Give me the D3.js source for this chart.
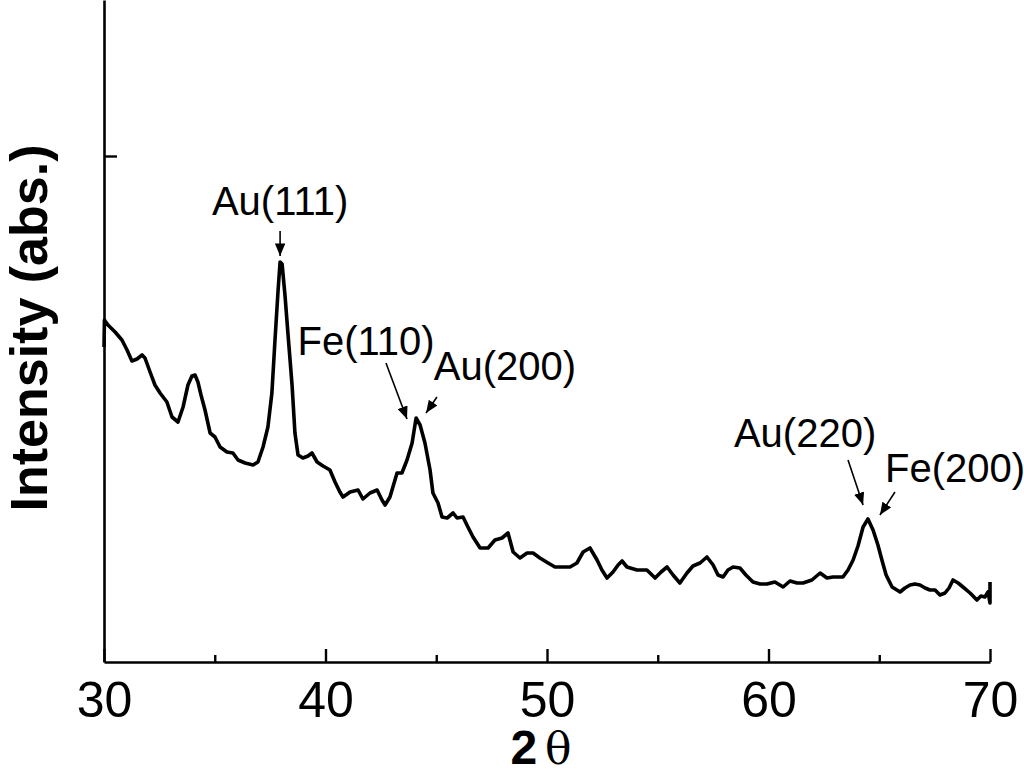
<!DOCTYPE html>
<html>
<head>
<meta charset="utf-8">
<script src="https://cdn.jsdelivr.net/npm/d3@7"></script>
<style>
  html, body { margin: 0; padding: 0; background: #fff; }
  svg { display: block; }
  text { font-family: "Liberation Sans", Arial, sans-serif; fill: #000; }
</style>
</head>
<body>
<svg id="chart" width="1024" height="776"></svg>
<script>
// ---- data ----
const twoTheta = [30.00,30.02,30.05,30.18,30.50,30.81,31.04,31.26,31.49,31.72,31.85,32.08,32.30,32.53,32.84,33.07,33.34,33.57,33.79,33.97,34.11,34.24,34.38,34.56,34.79,35.01,35.24,35.55,35.82,36.05,36.37,36.73,36.95,37.18,37.40,37.58,37.72,37.86,37.95,38.04,38.17,38.31,38.49,38.62,38.76,38.98,39.21,39.39,39.62,39.89,40.20,40.43,40.65,40.79,41.11,41.47,41.69,42.01,42.33,42.55,42.69,42.91,43.23,43.45,43.68,43.91,44.09,44.27,44.49,44.72,44.85,45.08,45.26,45.49,45.76,45.94,46.21,46.43,46.66,46.98,47.34,47.65,47.97,48.24,48.47,48.78,49.10,49.37,49.68,50.05,50.36,50.72,51.04,51.35,51.63,51.94,52.26,52.48,52.71,52.98,53.21,53.39,53.61,54.06,54.51,54.88,55.15,55.42,55.69,56.00,56.32,56.59,56.91,57.22,57.50,57.72,57.95,58.17,58.40,58.71,58.98,59.30,59.62,59.93,60.29,60.66,60.97,61.29,61.56,61.96,62.33,62.64,62.91,63.36,63.59,63.82,64.04,64.27,64.49,64.72,64.94,65.12,65.31,65.58,65.94,66.16,66.39,66.61,66.84,67.07,67.29,67.52,67.74,67.97,68.15,68.33,68.56,68.78,69.10,69.32,69.41,69.59,69.77,69.91,70.00,70.00];
const intensity = [315,342,341,337,330,322,312,301,303,307,304,290,277,269,260,245,240,255,277,286,287,280,267,252,229,225,215,210,209,202,199,197,200,215,235,269,322,372,400,398,367,327,277,229,207,204,206,209,200,196,192,180,170,165,170,172,163,169,172,162,157,165,189,189,202,219,244,237,219,192,169,159,145,144,149,144,145,135,125,114,114,122,124,129,110,104,109,109,104,99,95,95,95,99,110,114,102,92,84,90,97,101,95,92,92,84,90,95,87,79,89,96,99,105,97,87,85,92,95,94,87,80,78,78,80,75,81,79,79,82,89,84,85,85,92,102,116,135,143,132,117,102,87,75,70,74,77,78,77,74,72,72,67,69,74,82,79,75,69,64,62,66,65,70,59,80];

const xTicks = [30, 40, 50, 60, 70];
const xMinorTicks = [35, 45, 55, 65];
const yTicks = [506];

const peakLabels = ["Au(111)", "Fe(110)", "Au(200)", "Au(220)", "Fe(200)"];
// label anchor (2θ, intensity) and arrow from/to (2θ, intensity)
const labelTheta     = [37.95, 41.83, 48.10, 61.65, 68.42];
const labelIntensity = [447,   307,   282,   215,   180];
const arrowFromTheta = [37.95, 42.73, 45.03, 63.59, 65.71];
const arrowFromInt   = [431,   299,   265,   202,   170];
const arrowToTheta   = [37.95, 43.68, 44.54, 64.27, 65.03];
const arrowToInt     = [406,   243,   249,   157,   147];

// ---- drawing ----
const svg = d3.select("#chart");
const x = d3.scaleLinear().domain([30, 70]).range([104, 990]);
const y = d3.scaleLinear().domain([0, 662]).range([662, 0]);

const defs = svg.append("defs");
defs.append("marker")
  .attr("id", "arrowhead")
  .attr("viewBox", "0 0 12 10")
  .attr("refX", 12).attr("refY", 5)
  .attr("markerWidth", 8).attr("markerHeight", 6.5)
  .attr("markerUnits", "strokeWidth")
  .attr("orient", "auto")
  .append("path").attr("d", "M0,0 L12,5 L0,10 Z").attr("fill", "#000");

// X axis
const gx = svg.append("g").attr("transform", `translate(0,${y(0)})`);
gx.call(d3.axisBottom(x).tickValues(xTicks).tickSizeInner(-13).tickSizeOuter(0).tickPadding(19).tickFormat(d3.format("d")));
gx.select(".domain").attr("stroke-width", 2.6);
gx.selectAll(".tick line").attr("stroke-width", 2.4);
gx.selectAll(".tick text").style("font-size", "50px").style("font-family", '"Liberation Sans", Arial, sans-serif');

const gxm = svg.append("g").attr("transform", `translate(0,${y(0)})`);
gxm.call(d3.axisBottom(x).tickValues(xMinorTicks).tickSizeInner(-7).tickSizeOuter(0).tickFormat(""));
gxm.select(".domain").remove();
gxm.selectAll(".tick line").attr("stroke-width", 2.4);

// Y axis
const gy = svg.append("g").attr("transform", `translate(${x(30)},0)`);
gy.call(d3.axisLeft(y).tickValues(yTicks).tickSizeInner(-13).tickSizeOuter(0).tickFormat(""));
gy.select(".domain").attr("stroke-width", 2.6);
gy.selectAll(".tick line").attr("stroke-width", 2.4);

// Curve
const pts = twoTheta.map((t, i) => [t, intensity[i]]);
svg.append("path")
  .datum(pts)
  .attr("fill", "none")
  .attr("stroke", "#000")
  .attr("stroke-width", 3.6)
  .attr("stroke-linejoin", "round")
  .attr("d", d3.line().x(d => x(d[0])).y(d => y(d[1])));

// Peak annotations
peakLabels.forEach((lab, i) => {
  svg.append("text")
    .attr("x", x(labelTheta[i])).attr("y", y(labelIntensity[i]))
    .attr("text-anchor", "middle")
    .style("font-size", "40px")
    .text(lab);
  svg.append("line")
    .attr("x1", x(arrowFromTheta[i])).attr("y1", y(arrowFromInt[i]))
    .attr("x2", x(arrowToTheta[i])).attr("y2", y(arrowToInt[i]))
    .attr("stroke", "#000").attr("stroke-width", 1.6)
    .attr("marker-end", "url(#arrowhead)");
});

// Axis titles
svg.append("text")
  .attr("transform", "translate(47,328) rotate(-90)")
  .attr("text-anchor", "middle")
  .style("font-size", "52px").style("font-weight", "bold")
  .text("Intensity (abs.)");

const xt = svg.append("text")
  .attr("x", 541).attr("y", 764)
  .attr("text-anchor", "middle")
  .style("font-size", "48px");
xt.append("tspan").style("font-weight", "bold").text("2");
xt.append("tspan").attr("dx", 8).style("font-family", '"DejaVu Serif", "Liberation Serif", serif').style("font-size", "44px").text("θ");
</script>
</body>
</html>
